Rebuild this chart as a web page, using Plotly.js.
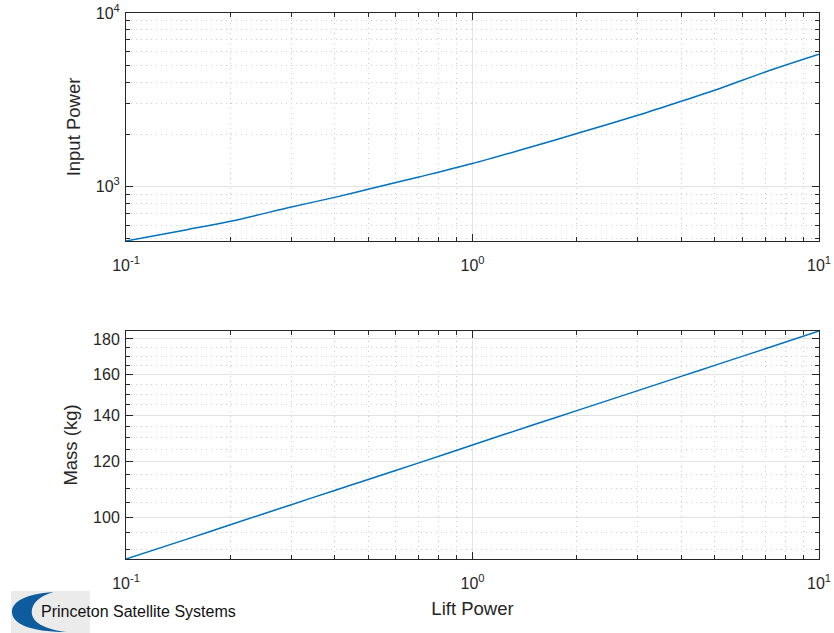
<!DOCTYPE html>
<html>
<head>
<meta charset="utf-8">
<script src="https://cdn.plot.ly/plotly-3.0.1.min.js"></script>
<style>
  html, body { margin: 0; padding: 0; background: #ffffff; }
  #chart { width: 834px; height: 633px; }
</style>
</head>
<body>
<div id="chart"></div>
<script>
// ---- data ----
var liftPower  = [0.1, 0.15, 0.2, 0.3, 0.4, 0.5, 0.7, 1, 1.5, 2, 3, 4, 5, 7, 10];
var inputPower = [486, 565, 631, 762, 867, 965, 1136, 1357, 1706, 2020, 2575, 3100, 3587, 4571, 5781];
var massKg     = [87.1, 93.0, 97.5, 104.2, 109.2, 113.2, 119.6, 126.9, 135.6, 142.1, 151.8, 159.1, 165.0, 174.3, 184.8];

// ---- tick labels ----
var xTickVals = [0.1, 1, 10];
var xTickText = ['10<sup>-1</sup>', '10<sup>0</sup>', '10<sup>1</sup>'];
var powerTickVals = [1000, 10000];
var powerTickText = ['10<sup>3</sup>', '10<sup>4</sup>'];
var massTickVals = [100, 120, 140, 160, 180];
var massTickText = ['100', '120', '140', '160', '180'];

// ---- minor tick positions (log decades: 2..9 of each decade) ----
function decadeMinors(lo, hi) {
  var out = [];
  for (var e = lo; e < hi; e++) {
    for (var d = 2; d <= 9; d++) out.push(d * Math.pow(10, e));
  }
  return out;
}
var xMinor = decadeMinors(-1, 1);
var powerMinor = decadeMinors(2, 4);
var massMinor = [];
for (var m = 85; m <= 185; m += 5) { if (massTickVals.indexOf(m) < 0) massMinor.push(m); }

// ---- styling ----
var W = 834, H = 633;
var ML = 126, MR = 15, MT = 13, MB = 74;
var PH = H - MT - MB;
function pyToPaper(py) { return (H - MB - py) / PH; }
function pxToPaper(px) { return (px - ML) / (W - ML - MR); }

var axisColor = '#262626';
var font = 'Liberation Sans, Arial, Helvetica, sans-serif';
var tickFont = { family: font, size: 16, color: axisColor };
var titleFont = { family: font, size: 18.5, color: axisColor };

function baseAxis(extra) {
  var a = {
    showline: true, linecolor: axisColor, linewidth: 1, mirror: 'ticks',
    ticks: 'inside', ticklen: 7, tickcolor: axisColor, tickwidth: 1,
    showgrid: true, gridcolor: '#e3e3e3', gridwidth: 1,
    zeroline: false, tickfont: tickFont, automargin: false,
    fixedrange: true
  };
  for (var k in extra) a[k] = extra[k];
  return a;
}
function minorCfg(vals) {
  return {
    tickmode: 'array', tickvals: vals,
    ticks: 'inside', ticklen: 4, tickcolor: axisColor, tickwidth: 1,
    showgrid: true, gridcolor: '#cdcdcd', gridwidth: 1, griddash: '1px,4px'
  };
}

var lineStyle = { color: '#0072BD', width: 1.5, shape: 'spline', smoothing: 0.8 };

var traces = [
  { x: liftPower, y: inputPower, type: 'scatter', mode: 'lines', line: lineStyle,
    xaxis: 'x', yaxis: 'y', hoverinfo: 'x+y' },
  { x: liftPower, y: massKg, type: 'scatter', mode: 'lines', line: lineStyle,
    xaxis: 'x2', yaxis: 'y2', hoverinfo: 'x+y' }
];

var topDomain = [pyToPaper(241), 1];
var botDomain = [0, pyToPaper(331)];

var logoSvg = "<svg xmlns='http://www.w3.org/2000/svg' width='80' height='42' viewBox='0 0 80 42'>" +
  "<rect width='80' height='42' fill='#ebebeb'/>" +
  "<path d='M43 1 C 14 3, 1 11, 1 21 C 1 32, 18 41, 56 41 C 33 38, 21 31, 21 21 C 21 12, 29 5, 43 1 Z' fill='#0d5c9e'/>" +
  "</svg>";
var logoSrc = 'data:image/svg+xml;utf8,' + encodeURIComponent(logoSvg);

var layout = {
  width: W, height: H,
  margin: { l: ML, r: MR, t: MT, b: MB, pad: 0 },
  paper_bgcolor: '#ffffff', plot_bgcolor: '#ffffff',
  showlegend: false,
  xaxis: baseAxis({
    type: 'log', range: [-1, 1], domain: [0, 1], anchor: 'y',
    tickmode: 'array', tickvals: xTickVals, ticktext: xTickText,
    minor: minorCfg(xMinor), ticklabelstandoff: 10
  }),
  yaxis: baseAxis({
    type: 'log', range: [Math.log10(inputPower[0]), 4], domain: topDomain, anchor: 'x',
    tickmode: 'array', tickvals: powerTickVals, ticktext: powerTickText,
    minor: minorCfg(powerMinor), ticklabelstandoff: 2,
    title: { text: 'Input Power', font: titleFont, standoff: 10 }
  }),
  xaxis2: baseAxis({
    type: 'log', range: [-1, 1], domain: [0, 1], anchor: 'y2',
    tickmode: 'array', tickvals: xTickVals, ticktext: xTickText,
    minor: minorCfg(xMinor), ticklabelstandoff: 10,
    title: { text: 'Lift Power', font: titleFont, standoff: 10 }
  }),
  yaxis2: baseAxis({
    type: 'log', range: [Math.log10(massKg[0]), Math.log10(massKg[massKg.length - 1])],
    domain: botDomain, anchor: 'x2',
    tickmode: 'array', tickvals: massTickVals, ticktext: massTickText,
    minor: minorCfg(massMinor), ticklabelstandoff: 2,
    title: { text: 'Mass (kg)', font: titleFont, standoff: 10 }
  }),
  images: [{
    source: logoSrc, xref: 'paper', yref: 'paper',
    x: pxToPaper(11), y: pyToPaper(591), sizex: 79 / (W - ML - MR), sizey: 42 / PH,
    xanchor: 'left', yanchor: 'top', sizing: 'stretch', layer: 'above'
  }],
  annotations: [{
    text: 'Princeton Satellite Systems', showarrow: false,
    xref: 'paper', yref: 'paper', x: pxToPaper(39), y: pyToPaper(611),
    xanchor: 'left', yanchor: 'middle',
    font: { family: font, size: 16, color: '#111111' }
  }]
};

Plotly.newPlot('chart', traces, layout, { displayModeBar: false, staticPlot: true });
</script>
</body>
</html>
